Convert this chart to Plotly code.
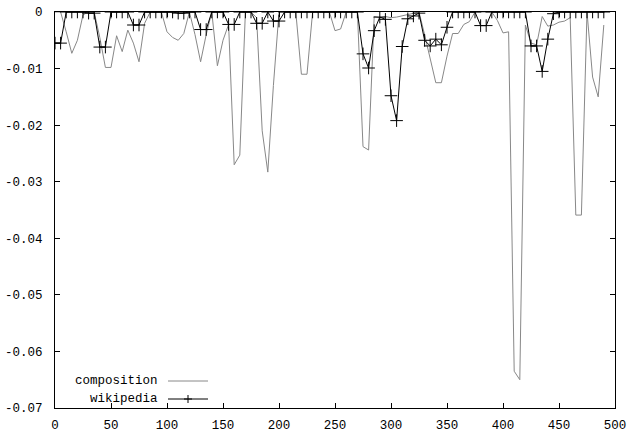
import plotly.graph_objects as go

# ---- data ----
x_composition = list(range(0, 495, 5))
composition = [
    0, 0, -0.0035, -0.0073, -0.005, -0.0005, 0, 0, -0.0045, -0.0098,
    -0.0098, -0.0042, -0.007, -0.0032, -0.0055, -0.0088, -0.002, 0, 0, 0,
    -0.0035, -0.0045, -0.005, -0.0038, 0, -0.004, -0.0088, -0.004, 0, -0.0095,
    -0.005, -0.0022, -0.027, -0.0253, 0, 0, -0.001, -0.021, -0.0283, -0.013,
    0, 0, 0, 0, -0.011, -0.011, 0, 0, 0, 0,
    -0.0033, -0.003, 0, 0, 0, -0.0238, -0.0244, -0.0008, -0.001, -0.0008,
    -0.001, -0.0009, -0.0007, -0.0005, -0.0002, 0, -0.004, -0.008, -0.0125, -0.0125,
    -0.0078, -0.0038, -0.0038, -0.0022, -0.0017, 0, 0, 0, 0, -0.0015,
    -0.0037, -0.0035, -0.0635, -0.065, -0.0023, -0.0055, -0.0058, -0.0008, -0.0025, -0.0023,
    -0.0018, -0.0016, -0.001, -0.0359, -0.0359, 0, -0.0115, -0.015, -0.0023,
]

x_wikipedia = list(range(0, 495, 5))
wikipedia = [
    -0.0055, -0.0055, 0, 0, 0, 0, -0.0002, -0.0002, -0.0062, -0.0062,
    0, 0, 0, 0, -0.0023, -0.0023, 0, 0, 0, 0,
    0, 0, -0.0002, -0.0002, 0, 0, -0.0031, -0.0031, 0, 0,
    0, -0.0022, -0.0022, 0, 0, 0, -0.002, -0.002, 0, -0.0016,
    -0.0016, 0, 0, 0, 0, 0, 0, 0, 0, 0,
    0, 0, 0, 0, 0, -0.0074, -0.0099, -0.0033, -0.0009, -0.0013,
    -0.0148, -0.0192, -0.0061, -0.0012, -0.0007, -0.0002, -0.005, -0.006, -0.0048, -0.0058,
    -0.0027, 0, 0, 0, 0, 0, -0.0024, -0.0024, 0, 0,
    0, 0, 0, 0, 0, -0.006, -0.006, -0.0105, -0.0048, -0.0003,
    0, 0, 0, 0, 0, 0, 0, 0, 0,
]

x_ticks = [0, 50, 100, 150, 200, 250, 300, 350, 400, 450, 500]
y_ticks = [-0.07, -0.06, -0.05, -0.04, -0.03, -0.02, -0.01, 0]
y_tick_labels = ["-0.07", "-0.06", "-0.05", "-0.04", "-0.03", "-0.02", "-0.01", "0"]
series_names = ["composition", "wikipedia"]

GRAY = "#888888"
FONT = dict(family="Liberation Mono, DejaVu Sans Mono, monospace", size=12.5, color="black")

fig = go.Figure()
fig.add_trace(go.Scatter(x=x_composition, y=composition, mode="lines",
                         line=dict(color=GRAY, width=1), name=series_names[0],
                         showlegend=False))
fig.add_trace(go.Scatter(x=x_wikipedia, y=wikipedia, mode="lines+markers",
                         line=dict(color="black", width=1),
                         marker=dict(symbol="cross-thin", size=9,
                                     line=dict(color="black", width=1)),
                         name=series_names[1], showlegend=False))

L, R, T, B = 55, 15, 12, 28
W, H = 630, 436
pw, ph = W - L - R, H - T - B

def px_x(p):
    return (p - L) / pw

def px_y(p):
    return (H - B - p) / ph

# gnuplot-style key (text then sample) in the lower-left corner
shapes = []
annotations = []
key_rows = [(381, GRAY, False), (399, "black", True)]
for name, (ypx, col, mk) in zip(series_names, key_rows):
    annotations.append(dict(x=px_x(160), y=px_y(ypx), xref="paper", yref="paper",
                            text=name, showarrow=False, xanchor="right",
                            yanchor="middle", font=FONT))
    shapes.append(dict(type="line", xref="paper", yref="paper",
                       x0=px_x(168), x1=px_x(208), y0=px_y(ypx), y1=px_y(ypx),
                       line=dict(color=col, width=1)))
    if mk:
        shapes.append(dict(type="line", xref="paper", yref="paper",
                           x0=px_x(188), x1=px_x(188), y0=px_y(ypx - 4), y1=px_y(ypx + 4),
                           line=dict(color=col, width=1)))
        shapes.append(dict(type="line", xref="paper", yref="paper",
                           x0=px_x(184), x1=px_x(192), y0=px_y(ypx), y1=px_y(ypx),
                           line=dict(color=col, width=1)))

axis_common = dict(showline=True, linecolor="black", linewidth=1, mirror="allticks",
                   ticks="inside", ticklen=5, tickwidth=1, tickcolor="black",
                   showgrid=False, zeroline=False, tickfont=FONT, automargin=False)

fig.update_layout(
    width=W, height=H,
    margin=dict(l=L, r=R, t=T, b=B, pad=0),
    paper_bgcolor="white", plot_bgcolor="white",
    xaxis=dict(range=[0, 500], tickvals=x_ticks, ticktext=[str(v) for v in x_ticks],
               ticklabelstandoff=5, **axis_common),
    yaxis=dict(range=[-0.07, 0], tickvals=y_ticks, ticktext=y_tick_labels,
               ticklabelstandoff=9, **axis_common),
    shapes=shapes, annotations=annotations,
)

fig.write_html("out.html")
